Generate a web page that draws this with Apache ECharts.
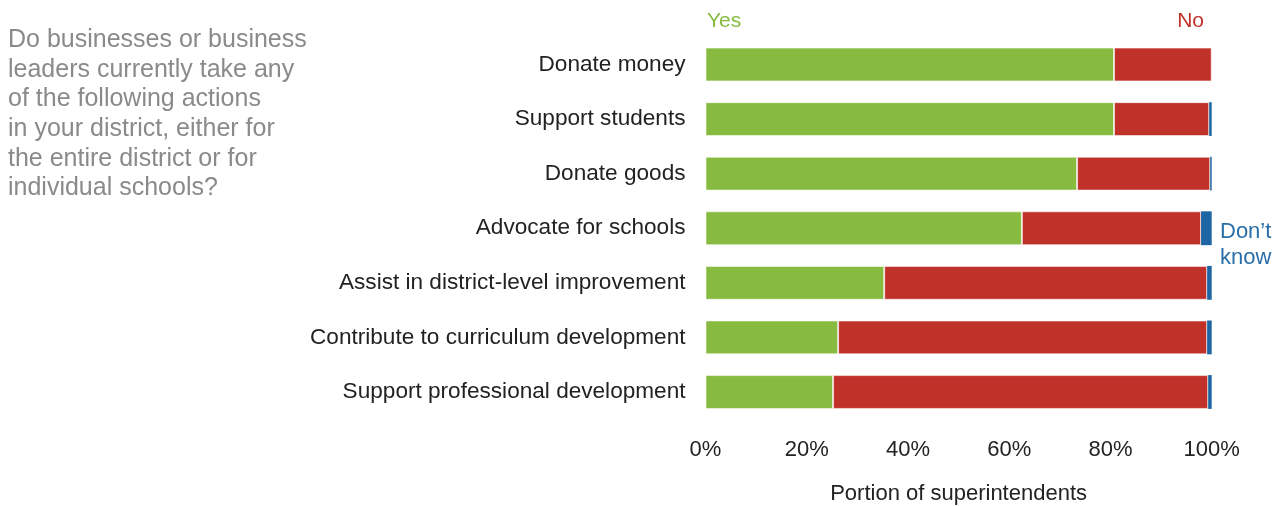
<!DOCTYPE html>
<html>
<head>
<meta charset="utf-8">
<style>
  html, body { margin: 0; padding: 0; background: #fff; }
  #chart { width: 1279px; height: 506px; }
</style>
<script src="https://cdn.jsdelivr.net/npm/echarts@6/dist/echarts.min.js"></script>
</head>
<body>
<div id="chart"></div>
<script>
// Survey actions, top to bottom
const categories = [
  'Donate money',
  'Support students',
  'Donate goods',
  'Advocate for schools',
  'Assist in district-level improvement',
  'Contribute to curriculum development',
  'Support professional development'
];
// Share of superintendents (%)
const yesValues = [80.7, 80.7, 73.4, 62.5, 35.3, 26.2, 25.2];
const noValues = [19.3, 18.8, 26.3, 35.4, 63.8, 72.9, 74.1];
const dontKnowValues = [0, 0.5, 0.3, 2.1, 0.9, 0.9, 0.7];
const tickLabels = ['0%', '20%', '40%', '60%', '80%', '100%'];

const font = '"Liberation Sans", Arial, sans-serif';
const colors = { yes: '#86bb40', no: '#c0312a', dk: '#1d66a3' };

const chart = echarts.init(document.getElementById('chart'));

const barStyle = (c) => ({
  color: c,
  borderColor: 'rgba(255,255,255,0.55)',
  borderWidth: 1
});

chart.setOption({
  animation: false,
  grid: { left: 705.5, right: 67.3, top: 37.2, bottom: 86.7, outerBoundsMode: 'none', containLabel: false },
  xAxis: {
    type: 'value',
    min: 0,
    max: 100,
    interval: 20,
    axisLine: { show: false },
    axisTick: { show: false },
    splitLine: { show: false },
    axisLabel: {
      margin: 20,
      fontFamily: font,
      fontSize: 22,
      color: '#222',
      formatter: (v) => tickLabels[Math.round(v / 20)]
    },
    name: 'Portion of superintendents',
    nameLocation: 'middle',
    nameGap: 64,
    nameTextStyle: { fontFamily: font, fontSize: 22, color: '#222' }
  },
  yAxis: {
    type: 'category',
    data: categories,
    inverse: true,
    axisLine: { show: false },
    axisTick: { show: false },
    axisLabel: { margin: 20, fontFamily: font, fontSize: 22.6, color: '#222' }
  },
  series: [
    { name: 'Yes', type: 'bar', stack: 'all', barWidth: '62%', data: yesValues, itemStyle: barStyle(colors.yes) },
    { name: 'No', type: 'bar', stack: 'all', data: noValues, itemStyle: barStyle(colors.no) },
    { name: "Don't know", type: 'bar', stack: 'all', data: dontKnowValues, itemStyle: { color: colors.dk } }
  ],
  graphic: [
    {
      type: 'text', left: 8, top: 25.5,
      style: {
        text: 'Do businesses or business\nleaders currently take any\nof the following actions\nin your district, either for\nthe entire district or for\nindividual schools?',
        font: '25px ' + font, fill: '#8a8a8a', lineHeight: 29.6
      }
    },
    {
      type: 'text', left: 707, top: 11,
      style: { text: 'Yes', font: '21px ' + font, fill: colors.yes }
    },
    {
      type: 'text', right: 75, top: 11,
      style: { text: 'No', font: '21px ' + font, fill: colors.no, align: 'right' }
    },
    {
      type: 'text', left: 1220, top: 219,
      style: { text: 'Don\u2019t\nknow', font: '22px ' + font, fill: '#2a6ea8', lineHeight: 26 }
    }
  ]
});
</script>
</body>
</html>
